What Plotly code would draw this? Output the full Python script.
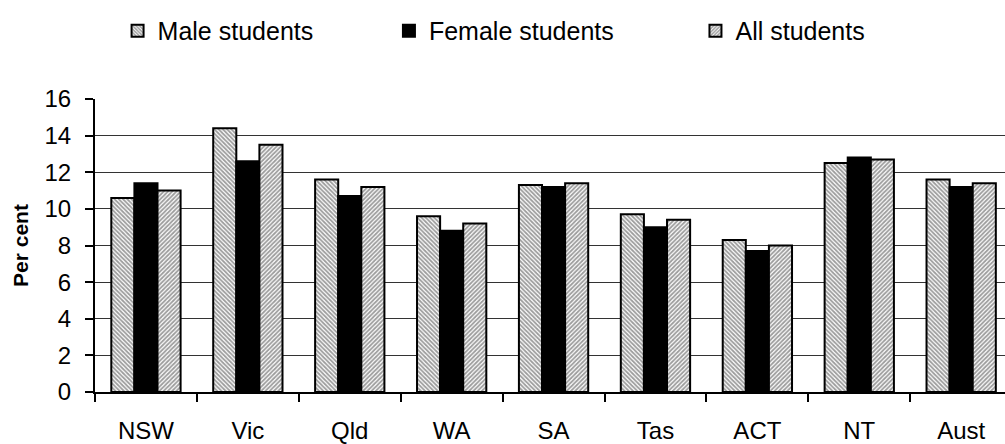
import plotly.graph_objects as go

# States / territories and the percentage for each student group
states = ["NSW", "Vic", "Qld", "WA", "SA", "Tas", "ACT", "NT", "Aust"]
male = [10.6, 14.4, 11.6, 9.6, 11.3, 9.7, 8.3, 12.5, 11.6]
female = [11.4, 12.6, 10.7, 8.8, 11.2, 9.0, 7.7, 12.8, 11.2]
all_students = [11.0, 13.5, 11.2, 9.2, 11.4, 9.4, 8.0, 12.7, 11.4]
y_ticks = [0, 2, 4, 6, 8, 10, 12, 14, 16]

outline = dict(color="black", width=2)

fig = go.Figure()
fig.add_trace(go.Bar(
    name="Male students", x=states, y=male, legend="legend",
    marker=dict(color="white", line=outline,
                pattern=dict(shape="\\", size=3, solidity=0.6,
                             fgcolor="#3a3a3a", bgcolor="white")),
))
fig.add_trace(go.Bar(
    name="Female students", x=states, y=female, legend="legend2",
    marker=dict(color="black", line=outline),
))
fig.add_trace(go.Bar(
    name="All students", x=states, y=all_students, legend="legend3",
    marker=dict(color="white", line=outline,
                pattern=dict(shape="/", size=3, solidity=0.6,
                             fgcolor="#3a3a3a", bgcolor="white")),
))

font_family = "Liberation Sans, Arial, sans-serif"


def legend_box(x):
    # one legend per series so each entry sits at its own spot on the top row
    return dict(
        orientation="h", xref="container", yref="container",
        x=x, y=0.982, xanchor="left", yanchor="top",
        font=dict(size=25), itemwidth=30, bgcolor="rgba(0,0,0,0)",
    )


fig.update_layout(
    width=1005, height=444,
    barmode="group", bargap=0.32, bargroupgap=0,
    paper_bgcolor="white", plot_bgcolor="white",
    margin=dict(l=95, r=0, t=99, b=49),
    font=dict(family=font_family, color="black", size=24),
    showlegend=True,
    legend=legend_box(0.117),
    legend2=legend_box(0.387),
    legend3=legend_box(0.692),
    xaxis=dict(
        range=[-0.5, 8.43], showline=True, linecolor="black", linewidth=2,
        ticks="outside", tickson="boundaries", ticklen=8, tickwidth=1.5,
        tickcolor="black", ticklabelstandoff=16, showgrid=False,
        tickfont=dict(size=24),
    ),
    yaxis=dict(
        range=[0, 16], tickvals=y_ticks, showline=True, linecolor="black",
        linewidth=2, ticks="outside", ticklen=8, tickwidth=1.5,
        tickcolor="black", showgrid=True, gridcolor="#333333", gridwidth=1,
        zeroline=False, tickfont=dict(size=24), ticklabelstandoff=9,
        title=dict(text="<b>Per cent</b>", font=dict(size=21), standoff=10),
    ),
)

fig.write_html("out.html")
